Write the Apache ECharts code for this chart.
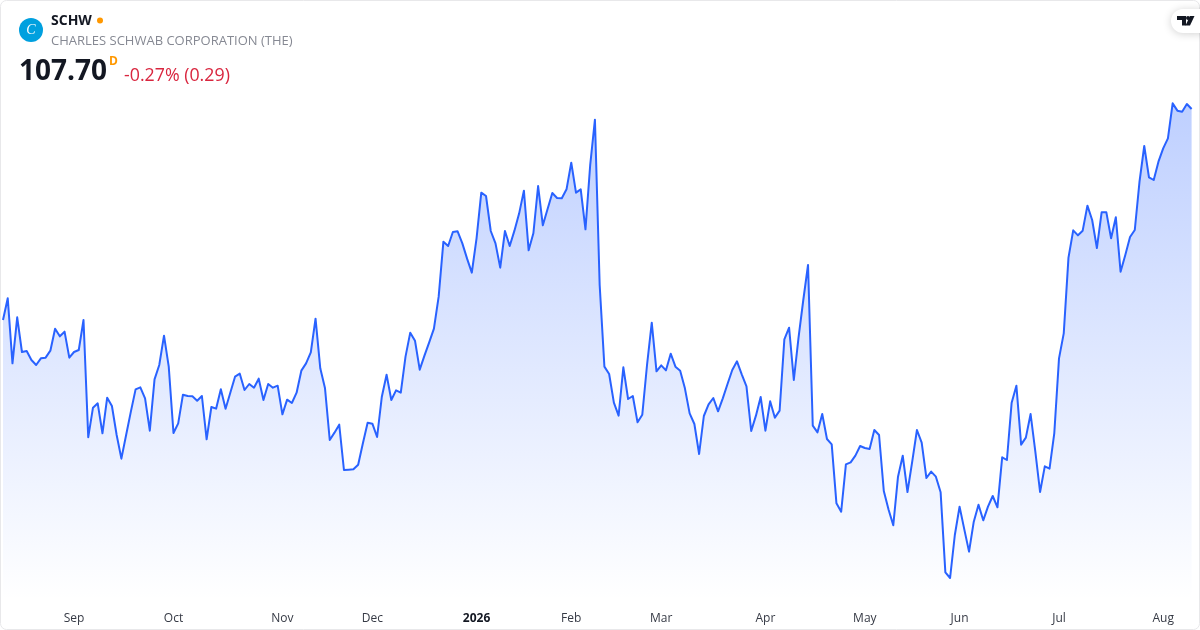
<!DOCTYPE html>
<html><head><meta charset="utf-8">
<style>html,body{margin:0;padding:0;background:#fff}#c{width:1200px;height:630px}</style>
<script src="https://cdn.jsdelivr.net/npm/echarts@6/dist/echarts.min.js"></script>
</head><body><div id="c"></div>
<script>
const prices = [
95.04,96.34,92.44,95.20,93.12,93.18,92.64,92.34,92.74,92.78,93.20,94.52,94.06,94.34,92.78,93.12,93.24,95.04,88.00,89.78,
90.04,88.24,90.38,89.88,88.14,86.72,88.14,89.54,90.88,91.00,90.34,88.40,91.48,92.34,94.10,92.24,88.26,88.84,90.56,90.48,
90.46,90.20,90.48,87.88,89.82,89.72,90.88,89.72,90.68,91.64,91.82,90.84,91.20,90.98,91.52,90.24,91.20,90.98,91.10,89.38,
90.26,90.06,90.68,92.00,92.44,93.10,95.12,92.14,90.94,87.84,88.28,88.76,86.04,86.06,86.08,86.36,87.64,88.88,88.82,88.02,
90.44,91.76,90.24,90.82,90.68,92.84,94.28,93.80,92.06,92.90,93.70,94.52,96.44,99.74,99.48,100.32,100.36,99.64,98.72,97.88,
99.94,102.68,102.48,100.38,99.64,98.18,100.38,99.48,100.40,101.44,102.80,99.22,100.24,103.08,100.72,101.70,102.66,102.36,102.34,102.88,
104.48,102.68,102.88,100.48,104.34,107.06,97.14,92.24,91.80,90.08,89.30,92.20,90.30,90.48,88.90,89.36,92.34,94.88,91.96,92.32,
92.02,93.02,92.24,92.00,90.94,89.44,88.80,87.00,89.28,89.98,90.36,89.56,90.34,91.20,92.04,92.56,91.78,91.06,88.38,89.30,
90.42,88.40,90.16,89.18,89.60,93.88,94.58,91.44,94.00,96.24,98.34,88.70,88.30,89.40,87.90,87.58,84.04,83.54,86.38,86.50,
86.90,87.48,87.36,87.30,88.44,88.14,84.78,83.67,82.72,85.64,86.90,84.72,86.54,88.44,87.68,85.56,85.94,85.64,84.70,79.90,
79.56,82.14,83.84,82.48,81.14,82.94,83.96,83.02,83.84,84.48,83.80,86.80,86.64,90.08,91.10,87.56,87.98,89.40,87.14,84.72,
86.26,86.12,88.24,92.74,94.24,98.78,100.42,100.12,100.40,101.90,101.04,99.36,101.50,101.50,99.94,101.20,97.94,98.94,100.02,100.44,
103.34,105.48,103.60,103.44,104.54,105.34,105.94,108.04,107.60,107.54,108.00,107.70
];
const tickIndex = [15,36,59,78,100,120,139,161,182,202,223,245];
const tickLabels = ['Sep','Oct','Nov','Dec','2026','Feb','Mar','Apr','May','Jun','Jul','Aug'];
const symbol = 'SCHW';
const company = 'CHARLES SCHWAB CORPORATION (THE)';
const lastPrice = '107.70';
const change = '-0.27% (0.29)';

const categories = prices.map((_, i) => {
  const k = tickIndex.indexOf(i);
  return k >= 0 ? tickLabels[k] : '';
});
const font = '"Open Sans","Noto Sans",sans-serif';
const chart = echarts.init(document.getElementById('c'), null, {renderer: 'canvas'});
chart.setOption({
  animation: false,
  backgroundColor: '#fff',
  grid: {left: 2.4, right: 8.4, top: 0, bottom: 30},
  xAxis: {
    type: 'category', data: categories, boundaryGap: false,
    axisLine: {show: false}, axisTick: {show: false}, splitLine: {show: false},
    axisLabel: {
      interval: 0, margin: 13, color: '#363a45', fontFamily: font, fontSize: 12,
      hideOverlap: false,
      formatter: v => v === '2026' ? '{b|2026}' : v,
      rich: {b: {fontWeight: 700, color: '#131722', fontFamily: font, fontSize: 12}}
    }
  },
  yAxis: {type: 'value', min: 78.24, max: 114.24, show: false, splitLine: {show: false}},
  series: [{
    type: 'line', data: prices, symbol: 'none', smooth: false,
    lineStyle: {color: '#2962ff', width: 2, join: 'round'},
    areaStyle: {opacity: 1, color: new echarts.graphic.LinearGradient(0, 0, 0, 1, [
      {offset: 0, color: 'rgba(41,98,255,0.3)'},
      {offset: 1, color: 'rgba(41,98,255,0)'}
    ])}
  }],
  graphic: [
    {type: 'rect', silent: true, z: 50, shape: {x: 0.5, y: 0.5, width: 1199, height: 629, r: 6},
      style: {fill: 'none', stroke: '#e8e8ea', lineWidth: 1}},
    {type: 'circle', z: 60, shape: {cx: 31, cy: 30, r: 12}, style: {fill: '#00a0df'}},
    {type: 'text', z: 61, x: 31, y: 30, style: {text: 'C', fill: '#fff', font: 'italic 14px "Liberation Serif",serif', align: 'center', verticalAlign: 'middle'}},
    {type: 'text', z: 60, x: 51, y: 21.5, style: {text: symbol, fill: '#131722', font: '700 14px ' + font, verticalAlign: 'middle'}},
    {type: 'circle', z: 60, shape: {cx: 100, cy: 20.5, r: 3}, style: {fill: '#ff9800'}},
    {type: 'text', z: 60, x: 51, y: 41, style: {text: company, fill: '#868993', font: '13px ' + font, verticalAlign: 'middle'}},
    {type: 'text', z: 60, x: 19, y: 72, style: {text: lastPrice, fill: '#131722', font: '700 28px ' + font, verticalAlign: 'middle'}},
    {type: 'text', z: 60, x: 109, y: 62, style: {text: 'D', fill: '#ff9800', font: '700 12px ' + font, verticalAlign: 'middle'}},
    {type: 'text', z: 60, x: 124, y: 75.5, style: {text: change, fill: '#d9263f', font: '17.8px ' + font, verticalAlign: 'middle'}},
    {type: 'rect', z: 60, shape: {x: 1171, y: 9, width: 40, height: 24, r: 12},
      style: {fill: '#fff', shadowBlur: 8, shadowColor: 'rgba(0,0,0,0.18)', shadowOffsetY: 1}},
    {type: 'polygon', z: 61, shape: {points: [[1177,16],[1186,16],[1186,25.5],[1182,25.5],[1182,20],[1177,20]]}, style: {fill: '#131722'}},
    {type: 'circle', z: 61, shape: {cx: 1188, cy: 18, r: 2}, style: {fill: '#131722'}},
    {type: 'polygon', z: 61, shape: {points: [[1190,16],[1194.5,16],[1190,25.5],[1185.5,25.5]]}, style: {fill: '#131722'}}
  ]
});
</script></body></html>
